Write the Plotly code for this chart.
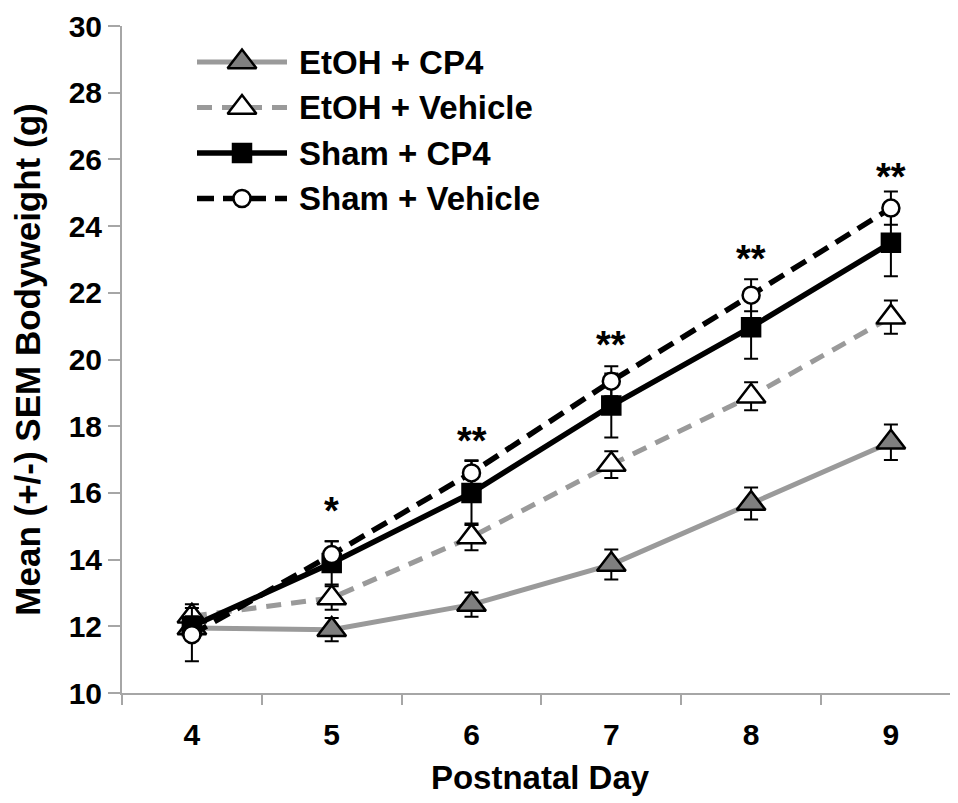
import plotly.graph_objects as go

# ---------------- data ----------------
days = ["4", "5", "6", "7", "8", "9"]

etoh_cp4 = [11.95, 11.90, 12.65, 13.85, 15.68, 17.52]
etoh_cp4_sem = [0.30, 0.35, 0.36, 0.45, 0.48, 0.53]

etoh_veh = [12.30, 12.85, 14.68, 16.85, 18.90, 21.27]
etoh_veh_sem = [0.36, 0.35, 0.40, 0.40, 0.42, 0.50]

sham_cp4 = [12.00, 13.90, 16.00, 18.62, 20.97, 23.50]
sham_cp4_sem = [0.30, 0.65, 0.96, 0.96, 0.95, 1.00]

sham_veh = [11.75, 14.15, 16.60, 19.35, 21.93, 24.54]
sham_veh_sem = [0.80, 0.40, 0.38, 0.45, 0.48, 0.50]

sig_days = ["5", "6", "7", "8", "9"]
sig_labels = ["*", "**", "**", "**", "**"]
sig_y = [15.45, 17.55, 20.43, 23.0, 25.47]

series_names = ["EtOH + CP4", "EtOH + Vehicle", "Sham + CP4", "Sham + Vehicle"]

# ---------------- styles ----------------
GRAY = "#9a9a9a"
AXIS = "#a6a6a6"
FONT = "Liberation Sans, Arial, sans-serif"
PAGE_OFF = 8  # default body margin of the html page

styles = [
    dict(line=dict(color=GRAY, width=5),
         marker=dict(symbol="triangle-up", size=25, color="#7f7f7f", line=dict(color="black", width=2.5))),
    dict(line=dict(color=GRAY, width=5, dash="15px,10px"),
         marker=dict(symbol="triangle-up", size=25, color="white", line=dict(color="black", width=2.5))),
    dict(line=dict(color="black", width=5.5),
         marker=dict(symbol="square", size=19, color="black", line=dict(color="black", width=1.5))),
    dict(line=dict(color="black", width=5.5, dash="17px,9px"),
         marker=dict(symbol="circle", size=17, color="white", line=dict(color="black", width=2.5))),
]
values = [etoh_cp4, etoh_veh, sham_cp4, sham_veh]
sems = [etoh_cp4_sem, etoh_veh_sem, sham_cp4_sem, sham_veh_sem]

fig = go.Figure()
for name, v, e, st in zip(series_names, values, sems, styles):
    fig.add_trace(go.Scatter(
        x=days, y=v, name=name, mode="lines+markers",
        line=st["line"], marker=st["marker"],
        error_y=dict(type="data", array=e, color="black", thickness=2, width=7),
        showlegend=False,
    ))

# custom legend drawn on an overlay axis in page-pixel units
L_X0, L_X1, L_XM, L_XT = 197, 287, 242, 297
L_Y0, L_DY = 62, 45.5
for i, (name, st) in enumerate(zip(series_names, styles)):
    yy = L_Y0 + i * L_DY
    fig.add_trace(go.Scatter(
        x=[L_X0, L_X1], y=[yy, yy], mode="lines", line=st["line"],
        xaxis="x2", yaxis="y2", showlegend=False, hoverinfo="skip"))
    fig.add_trace(go.Scatter(
        x=[L_XM], y=[yy], mode="markers", marker=st["marker"],
        xaxis="x2", yaxis="y2", showlegend=False, hoverinfo="skip"))
    fig.add_annotation(x=L_XT, y=yy, xref="x2", yref="y2", text=name,
                       showarrow=False, xanchor="left", yanchor="middle",
                       font=dict(family=FONT, size=33, color="black", weight="bold"))

for d, lab, yv in zip(sig_days, sig_labels, sig_y):
    fig.add_annotation(x=days.index(d), y=yv, xref="x", yref="y", text=lab, showarrow=False,
                       xanchor="center", yanchor="middle",
                       font=dict(family=FONT, size=38, color="black", weight="bold"))

fig.update_layout(
    width=958 - PAGE_OFF, height=803 - PAGE_OFF,
    margin=dict(l=122 - PAGE_OFF, r=0, t=26 - PAGE_OFF, b=110),
    paper_bgcolor="white", plot_bgcolor="white",
    font=dict(family=FONT, color="black"),
    xaxis=dict(
        type="category", range=[-0.5, 5.48], showgrid=False, zeroline=False,
        showline=True, linecolor=AXIS, linewidth=2,
        ticks="outside", tickson="boundaries", ticklen=10, tickwidth=2, tickcolor=AXIS,
        tickfont=dict(family=FONT, size=30, color="black", weight="bold"),
        ticklabelstandoff=14,
        title=dict(text="Postnatal Day", standoff=16,
                   font=dict(family=FONT, size=33, color="black", weight="bold")),
        automargin=False,
    ),
    yaxis=dict(
        range=[10, 30], dtick=2, showgrid=False, zeroline=False,
        showline=True, linecolor=AXIS, linewidth=2,
        ticks="outside", ticklen=12, tickwidth=2, tickcolor=AXIS,
        tickfont=dict(family=FONT, size=30, color="black", weight="bold"),
        ticklabelstandoff=0,
        title=dict(text="Mean (+/-) SEM Bodyweight (g)", standoff=34,
                   font=dict(family=FONT, size=35, color="black", weight="bold")),
        automargin=False,
    ),
    xaxis2=dict(overlaying="x", range=[122, 958], visible=False, fixedrange=True),
    yaxis2=dict(overlaying="y", range=[693, 26], visible=False, fixedrange=True),
)

fig.write_html("out.html")
